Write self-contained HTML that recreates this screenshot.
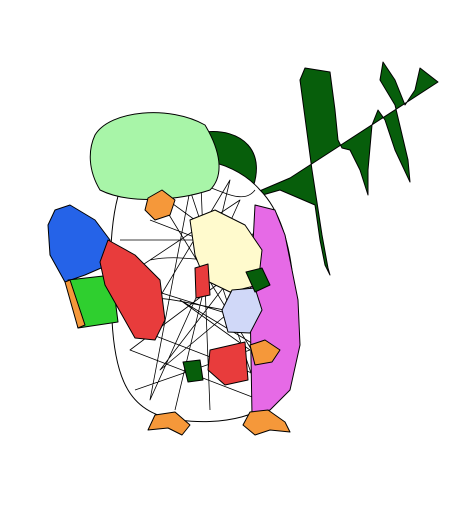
<!DOCTYPE html>
<html><head><meta charset="utf-8"><style>
html,body{margin:0;padding:0;background:#fff;width:469px;height:517px;overflow:hidden}
</style></head><body>
<svg width="469" height="517" viewBox="0 0 469 517" stroke="#000" stroke-width="1" stroke-linejoin="round">
<g fill="#075e0b">
<path d="M205,132 C240,128 270,150 250,195 L290,178 L438,82 L420,68 L415,90 L405,105 L395,80 L383,62 L380,80 L395,105 L408,160 L410,182 L395,150 L385,120 L378,110 L372,125 L368,170 L368,195 L360,170 L350,150 L342,148 L338,140 L335,110 L330,72 L305,68 L300,80 L312,170 L322,235 L328,268 L330,275 L325,265 L320,240 L315,205 L280,190 L252,198 C240,180 225,170 210,165 Z"/>
</g>
<g>
<path d="M130,170 C170,150 230,155 260,190 C300,230 300,330 285,380 C275,420 215,425 180,420 C130,415 115,380 112,320 C108,260 110,195 130,170 Z" fill="#fff"/>
<path d="M140,180 L250,260 L130,350 L260,400 L190,190 L150,400 L240,200 L120,280 L280,330 M160,200 L270,380 L140,330 L230,180 L175,410 M120,240 L260,240 L160,370 L280,270 L150,220 M200,160 L210,410 M125,300 C180,290 220,320 270,310 M150,260 C200,250 230,280 255,230 M135,390 L250,350 L180,300 L280,360 M165,175 C210,180 240,210 255,190" fill="none" stroke-width="0.8"/>
</g>
<path d="M95,135 C110,110 170,105 205,125 C220,150 225,175 210,190 C180,200 130,205 100,190 C88,170 88,150 95,135 Z" fill="#a8f5a8"/>
<path d="M255,205 L275,210 L285,235 L298,300 L300,345 L290,390 L270,410 L252,415 L250,300 Z" fill="#e66ae6"/>
<path d="M190,220 L215,210 L245,225 L262,250 L258,285 L230,292 L205,280 L195,255 Z" fill="#fffacd"/>
<path d="M232,290 L255,288 L262,310 L250,333 L228,332 L222,310 Z" fill="#d0d8f8"/>
<path d="M55,210 L70,205 L95,220 L110,240 L108,265 L85,275 L65,282 L50,255 L48,225 Z" fill="#2563e8"/>
<path d="M68,280 L112,275 L118,322 L78,328 Z" fill="#2fcf2f"/>
<path d="M65,282 L70,280 L85,325 L78,328 Z" fill="#f5983a"/>
<path d="M108,240 L135,255 L160,280 L165,320 L155,340 L135,338 L122,315 L105,285 L100,262 Z" fill="#e83c3c"/>
<path d="M195,268 L208,264 L210,295 L196,298 Z" fill="#e83c3c"/>
<path d="M210,350 L245,342 L248,380 L225,385 L208,370 Z" fill="#e83c3c"/>
<path d="M183,362 L200,360 L203,380 L188,382 Z" fill="#075e0b"/>
<path d="M246,272 L262,268 L270,285 L255,292 Z" fill="#075e0b"/>
<path d="M148,198 L162,190 L175,200 L170,215 L155,220 L145,210 Z" fill="#f5983a"/>
<path d="M250,345 L265,340 L280,350 L272,362 L255,365 Z" fill="#f5983a"/>
<path d="M155,415 L175,412 L190,425 L182,435 L168,428 L148,430 Z" fill="#f5983a"/>
<path d="M250,412 L268,410 L285,422 L290,432 L270,430 L255,435 L243,425 Z" fill="#f5983a"/>
</svg>
</body></html>
